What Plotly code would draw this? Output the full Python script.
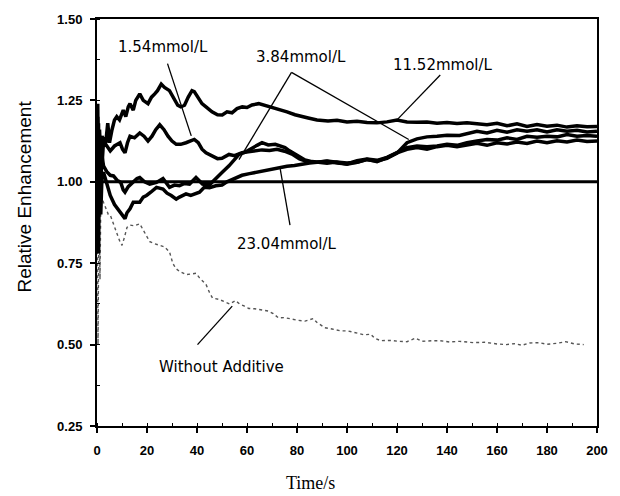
import plotly.graph_objects as go

# ---- data ----
t_a = [0, 0.3, 0.6, 1.0, 1.5, 2.0, 2.6, 3.5, 4.3, 5.0, 6.0, 7.0, 7.9, 9.0, 10.5, 11.5, 12.5, 13.2, 14.5, 15.5,
       17.1, 18.5, 20.4, 21.8, 23.1, 24.2, 25.7, 27.0, 29.0, 30.5, 32.3, 33.5, 35.0, 36.5, 38.0, 38.9, 40.5, 42.0,
       43.6, 46.0, 48.2, 50.1, 52.0, 54.0, 56.0, 58.1, 60.0, 62.0, 64.7, 67.0, 69.0, 71.3, 73.5, 76.0, 79.2, 82.0,
       84.5, 88.0, 92.4, 96.0, 100, 104, 108, 112, 116, 120, 124, 128, 132, 136, 140, 144, 148, 152, 156, 160,
       164, 168, 172, 176, 180, 184, 188, 192, 196, 200]
v_a = [0.95, 1.20, 1.02, 1.16, 1.08, 1.14, 1.13, 1.12, 1.18, 1.12, 1.16, 1.19, 1.20, 1.19, 1.22, 1.20, 1.23, 1.24,
       1.22, 1.25, 1.27, 1.25, 1.24, 1.26, 1.27, 1.28, 1.30, 1.29, 1.28, 1.26, 1.235, 1.23, 1.235, 1.26, 1.28,
       1.277, 1.26, 1.24, 1.23, 1.215, 1.206, 1.205, 1.215, 1.212, 1.225, 1.23, 1.228, 1.236, 1.24, 1.235, 1.232,
       1.226, 1.222, 1.215, 1.206, 1.20, 1.196, 1.19, 1.187, 1.189, 1.184, 1.186, 1.182, 1.181, 1.184, 1.19,
       1.184, 1.183, 1.184, 1.18, 1.182, 1.179, 1.181, 1.178, 1.175, 1.18, 1.172, 1.178, 1.17, 1.176, 1.171,
       1.174, 1.168, 1.172, 1.169, 1.17]

t_b = [0, 0.3, 0.6, 1.0, 1.5, 2.0, 2.6, 4.0, 5.3, 7.0, 9.2, 10.2, 11.2, 12.2, 13.2, 15.0, 17.1, 18.8, 20.4, 22.0,
       23.5, 25.1, 26.8, 28.4, 30.0, 31.7, 33.5, 35.6, 37.0, 38.9, 40.5, 42.0, 43.6, 46.0, 48.2, 50.0, 52.8, 55.0,
       58.0, 60.5, 63, 66, 69, 72, 75, 78, 81, 84, 88, 92, 96, 100, 104, 108, 112, 116, 120, 124, 128, 132, 136,
       140, 144, 148, 152, 156, 160, 164, 168, 172, 176, 180, 184, 188, 192, 196, 200]
v_b = [1.20, 0.85, 1.18, 0.95, 1.12, 1.05, 1.125, 1.11, 1.095, 1.11, 1.12, 1.10, 1.089, 1.12, 1.14, 1.135, 1.15,
       1.14, 1.125, 1.14, 1.16, 1.175, 1.16, 1.14, 1.125, 1.115, 1.115, 1.12, 1.125, 1.13, 1.12, 1.10, 1.089,
       1.08, 1.071, 1.072, 1.084, 1.08, 1.089, 1.092, 1.095, 1.098, 1.096, 1.10, 1.094, 1.085, 1.07, 1.062,
       1.06, 1.063, 1.058, 1.055, 1.065, 1.07, 1.066, 1.075, 1.09, 1.105, 1.11, 1.108, 1.11, 1.115, 1.112,
       1.12, 1.125, 1.13, 1.128, 1.135, 1.13, 1.14, 1.137, 1.14, 1.138, 1.145, 1.14, 1.142, 1.14]

t_c = [0, 0.3, 0.6, 1.0, 1.5, 2.0, 2.6, 4.0, 5.3, 6.6, 8.0, 9.5, 10.5, 11.2, 12.5, 14.5, 16.0, 17.1, 19.0, 21.1,
       23.8, 26.4, 28.0, 29.0, 31.0, 33.0, 35.0, 37.0, 39.6, 41.0, 42.2, 44.9, 47.5, 50.1, 52.8, 55.0, 56.8,
       59.0, 62.0, 64.0, 66.0, 68.5, 71.3, 73.0, 75.2, 77.0, 79.2, 81.0, 83.2, 86.0, 88.4, 92.0, 95.7, 100,
       104, 108, 112, 116, 120, 124, 128, 132, 136, 140, 145, 148, 152, 156, 160, 164, 168, 172, 176, 180, 184,
       188, 192, 196, 200]
v_c = [1.05, 1.24, 0.90, 1.12, 1.00, 1.08, 1.049, 1.03, 1.02, 1.018, 1.005, 0.998, 0.975, 0.968, 0.985, 0.998,
       1.01, 1.013, 1.0, 0.993, 0.998, 1.01, 0.995, 0.983, 0.99, 0.988, 0.995, 0.993, 1.013, 1.0, 0.993, 0.99,
       1.008, 1.029, 1.049, 1.07, 1.084, 1.09, 1.105, 1.112, 1.12, 1.113, 1.115, 1.11, 1.105, 1.095, 1.084,
       1.075, 1.067, 1.062, 1.059, 1.057, 1.061, 1.058, 1.06, 1.068, 1.064, 1.072, 1.088, 1.12, 1.132, 1.138,
       1.14, 1.143, 1.142, 1.148, 1.155, 1.15, 1.158, 1.152, 1.16, 1.155, 1.16, 1.153, 1.16, 1.155, 1.158,
       1.153, 1.155]

t_d = [0, 0.3, 0.6, 1.0, 1.5, 2.0, 2.6, 4.0, 5.3, 7.0, 9.2, 10.5, 11.2, 12.0, 13.2, 14.5, 17.1, 18.5, 19.8, 21.5,
       23.8, 26.4, 28.0, 29.7, 31.7, 33.0, 35.6, 37.5, 39.6, 41.0, 42.9, 45.0, 47.5, 50.0, 52.0, 55.0, 58.0,
       61.0, 64.0, 67.0, 70.0, 73.0, 76.0, 79.0, 82.0, 85.0, 88.0, 92.0, 96.0, 100, 104, 108, 112, 116, 120,
       124, 128, 132, 136, 140, 144, 148, 152, 156, 160, 164, 168, 172, 176, 180, 184, 188, 192, 196, 200]
v_d = [0.80, 1.15, 0.78, 1.05, 0.90, 1.02, 1.029, 0.99, 0.958, 0.93, 0.907, 0.897, 0.887, 0.905, 0.917, 0.937,
       0.937, 0.953, 0.958, 0.968, 0.983, 0.978, 0.965, 0.958, 0.947, 0.953, 0.963, 0.958, 0.963, 0.968, 0.983,
       0.982, 0.988, 0.99, 1.0, 1.01, 1.02, 1.025, 1.03, 1.035, 1.04, 1.045, 1.048, 1.05, 1.055, 1.058, 1.06,
       1.064, 1.06, 1.054, 1.06, 1.069, 1.062, 1.074, 1.089, 1.10, 1.105, 1.10, 1.108, 1.112, 1.108, 1.113,
       1.118, 1.112, 1.12, 1.116, 1.122, 1.118, 1.125, 1.12, 1.126, 1.122, 1.128, 1.124, 1.125]

t_e = [0, 0.4, 0.8, 1.2, 1.6, 2.0, 2.6, 3.5, 4.5, 5.3, 6.5, 7.5, 8.5, 9.2, 10.0, 11, 12, 13.2, 15, 17.1, 18.5,
       20, 21.1, 23, 25.1, 27, 29, 30.3, 31.5, 33, 35.6, 37.5, 39.6, 41, 43.6, 45, 46.2, 48.8, 50, 51.5, 53,
       55.4, 57, 59, 60.7, 63, 66, 68.6, 70.5, 72.6, 75, 77.9, 80, 83.2, 85, 86.5, 88, 91.1, 94, 97.7, 100.3,
       104, 106.9, 109.5, 111, 113.5, 117, 121, 124, 127.4, 130, 134, 137.3, 141, 145, 150.5, 155, 160, 163.7,
       167, 170, 173, 176.9, 180, 184, 187.4, 191, 194.7]
v_e = [1.10, 0.50, 0.95, 0.70, 1.00, 0.95, 0.937, 0.92, 0.90, 0.898, 0.87, 0.85, 0.83, 0.816, 0.805, 0.83, 0.86,
       0.867, 0.865, 0.871, 0.85, 0.83, 0.816, 0.81, 0.806, 0.80, 0.785, 0.75, 0.734, 0.725, 0.715, 0.718,
       0.719, 0.705, 0.685, 0.66, 0.643, 0.639, 0.635, 0.628, 0.625, 0.635, 0.625, 0.618, 0.611, 0.61, 0.606,
       0.603, 0.595, 0.582, 0.583, 0.578, 0.575, 0.572, 0.576, 0.58, 0.568, 0.552, 0.548, 0.542, 0.542, 0.535,
       0.53, 0.532, 0.52, 0.512, 0.513, 0.51, 0.509, 0.52, 0.51, 0.512, 0.512, 0.508, 0.51, 0.506, 0.507,
       0.502, 0.5, 0.503, 0.498, 0.505, 0.506, 0.501, 0.504, 0.509, 0.502, 0.5]

ref_t = [0, 200]
ref_v = [1.0, 1.0]

x_ticks = [0, 20, 40, 60, 80, 100, 120, 140, 160, 180, 200]
y_ticks = [0.25, 0.50, 0.75, 1.00, 1.25, 1.50]

# label, text position (t, v), leader lines [(t0, v0, t1, v1), ...]
labels = [
    ("1.54mmol/L", (26.3, 1.415), [(28.2, 1.363, 37.7, 1.141)]),
    ("3.84mmol/L", (81.5, 1.384), [(77.8, 1.336, 56.8, 1.068), (77.8, 1.336, 124.7, 1.13)]),
    ("11.52mmol/L", (138.5, 1.36), [(137.3, 1.328, 120.1, 1.191)]),
    ("23.04mmol/L", (76.0, 0.81), [(77.2, 0.867, 73.3, 1.039)]),
    ("Without Additive", (49.7, 0.43), [(40.2, 0.50, 54.1, 0.618)]),
]

fig = go.Figure()

fig.add_trace(go.Scatter(x=t_e, y=v_e, mode="lines", name="Without Additive",
                         line=dict(color="#555555", width=1.4, dash="dot")))
for tt, vv, nm in [(t_a, v_a, "11.52mmol/L"), (t_b, v_b, "1.54mmol/L"),
                   (t_c, v_c, "3.84mmol/L"), (t_d, v_d, "23.04mmol/L")]:
    fig.add_trace(go.Scatter(x=tt, y=vv, mode="lines", name=nm,
                             line=dict(color="black", width=3.5)))
fig.add_trace(go.Scatter(x=ref_t, y=ref_v, mode="lines", name="ref",
                         line=dict(color="black", width=3)))

for text, (tx, ty), lines in labels:
    fig.add_annotation(x=tx, y=ty, text=text, showarrow=False,
                       font=dict(family="DejaVu Sans", size=15, color="black"))
    for (x0, y0, x1, y1) in lines:
        fig.add_shape(type="line", x0=x0, y0=y0, x1=x1, y1=y1,
                      line=dict(color="black", width=1.3))

# axis titles (placed as in the reference)
fig.add_annotation(xref="paper", yref="paper", x=-0.1455, y=0.5645, text="Relative Enhancement",
                   textangle=-90, showarrow=False, xanchor="center", yanchor="middle",
                   font=dict(family="Arial", size=19, color="black"))
fig.add_annotation(xref="paper", yref="paper", x=0.4267, y=-0.141, text="Time/s",
                   showarrow=False, xanchor="center", yanchor="middle",
                   font=dict(family="Times New Roman", size=18, color="black"))

axis_common = dict(showgrid=False, zeroline=False, showline=True, linecolor="black",
                   linewidth=2, mirror=True, ticks="outside", ticklen=5, tickwidth=1.5,
                   tickcolor="black",
                   tickfont=dict(family="Arial", size=13, color="black", weight="bold"))

fig.update_xaxes(range=[0, 200], tickvals=x_ticks, ticklabelstandoff=6, **axis_common,
                 minor=dict(ticks="inside", dtick=10, ticklen=3, tickcolor="black", tickwidth=1.2))
fig.update_yaxes(range=[0.25, 1.5], tickvals=y_ticks, tickformat=".2f", ticklabelstandoff=5,
                 **axis_common,
                 minor=dict(ticks="inside", dtick=0.125, tick0=0.25, ticklen=3, tickcolor="black",
                            tickwidth=1.2))

fig.update_layout(width=620, height=496, showlegend=False,
                  plot_bgcolor="white", paper_bgcolor="white",
                  margin=dict(l=97, r=18, t=15, b=70))

fig.write_html("out.html")
